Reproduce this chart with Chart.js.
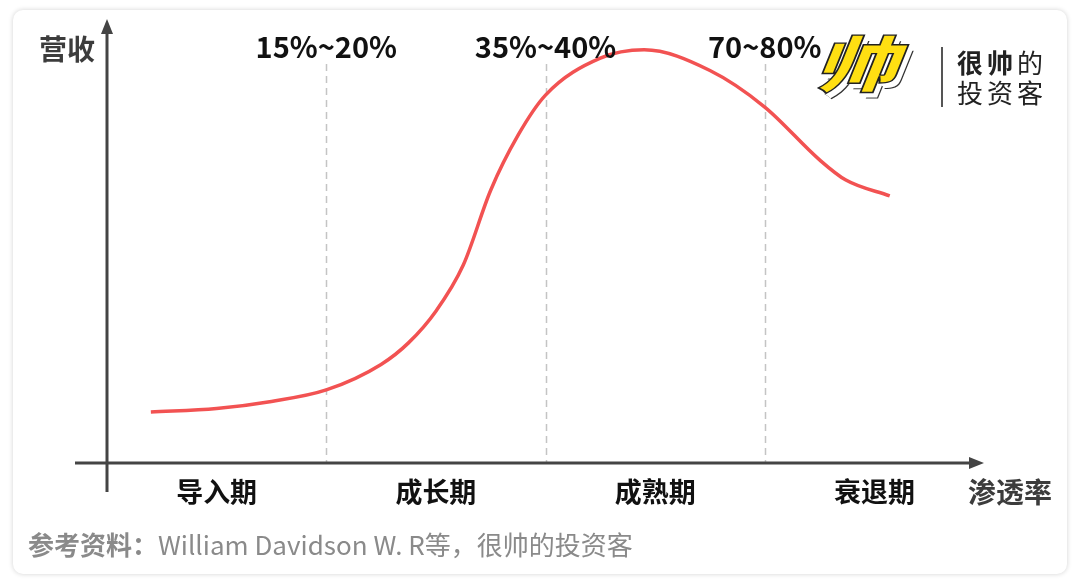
<!DOCTYPE html>
<html>
<head>
<meta charset="utf-8">
<script src="https://cdn.jsdelivr.net/npm/chart.js@4"></script>
<style>
  html, body { margin: 0; padding: 0; background: #fff; }
  #wrap { position: relative; width: 1080px; height: 584px; overflow: hidden; }
  #card {
    position: absolute; left: 13px; top: 10px; width: 1054px; height: 564px;
    background: #fff; border-radius: 10px;
    box-shadow: 0 0 5px rgba(0,0,0,0.18);
  }
  #logo {
    position: absolute; left: 836px; top: 30px;
    font: 900 66px "Noto Sans CJK SC", sans-serif;
    color: #ffdf12;
    transform: skewX(-22deg) scaleX(1.25) scaleY(0.92);
    transform-origin: left top;
    -webkit-text-stroke: 1.5px #222;
    text-shadow: 1px 1px 0 #fff, 2px 2px 0 #fff, 3px 3px 0 #fff, 4px 4px 0 #fff, 5px 5px 0 #fff, 6px 6px 0 #333;
    line-height: 1;
  }
  canvas { position: absolute; left: 0; top: 0; }
</style>
</head>
<body>
<div id="wrap">
  <div id="card"></div>
  <div id="logo">帅</div>
  <canvas id="c" width="1080" height="584"></canvas>
</div>
<script>
// stages along the x axis (one unit per stage)
const stageLabels = ["导入期", "成长期", "成熟期", "衰退期"];
const stagePos = [0.5, 1.5, 2.5, 3.5];
// penetration-rate markers between stages
const rangeLabels = ["15%~20%", "35%~40%", "70~80%"];
const rangePos = [1, 2, 3];

// revenue curve (x in stages, y 0-100)
const curveX = [0.2, 0.5, 0.75, 1.0, 1.25, 1.375, 1.5, 1.625, 1.75, 1.875, 2.0, 2.25, 2.45, 2.75, 3.0, 3.25, 3.37, 3.57];
const curveY = [11.6, 12.4, 14.0, 16.6, 22.4, 27.3, 34.5, 45.0, 62.0, 74.5, 83.6, 92.0, 93.9, 89.2, 80.9, 68.9, 64.3, 60.7];

const FONT = '"Noto Sans CJK SC", "Noto Sans", sans-serif';
const AXIS = "#444";

const decor = {
  id: "decor",
  beforeDatasetsDraw(chart) {
    const { ctx, scales: { x, y } } = chart;
    const x0 = x.getPixelForValue(0), y0 = y.getPixelForValue(0);
    ctx.save();
    // dashed stage borders
    ctx.strokeStyle = "#c4c4c4";
    ctx.lineWidth = 1.5;
    ctx.setLineDash([7, 5]);
    rangePos.forEach(v => {
      const px = Math.round(x.getPixelForValue(v)) + 0.5;
      ctx.beginPath();
      ctx.moveTo(px, 64);
      ctx.lineTo(px, y0);
      ctx.stroke();
    });
    ctx.setLineDash([]);
    // axes
    ctx.strokeStyle = AXIS;
    ctx.fillStyle = AXIS;
    ctx.lineWidth = 3;
    const xEnd = x.getPixelForValue(4);
    ctx.beginPath();
    ctx.moveTo(75, y0);
    ctx.lineTo(xEnd - 10, y0);
    ctx.moveTo(x0, 492);
    ctx.lineTo(x0, 32);
    ctx.stroke();
    ctx.beginPath();
    ctx.moveTo(xEnd, y0);
    ctx.lineTo(xEnd - 15, y0 - 6);
    ctx.lineTo(xEnd - 15, y0 + 6);
    ctx.closePath();
    ctx.fill();
    ctx.beginPath();
    ctx.moveTo(x0, 19);
    ctx.lineTo(x0 - 6, 34);
    ctx.lineTo(x0 + 6, 34);
    ctx.closePath();
    ctx.fill();
    ctx.restore();
  },
  afterDraw(chart) {
    const { ctx, scales: { x } } = chart;
    ctx.save();
    ctx.textBaseline = "middle";
    // axis names
    ctx.font = "700 28px " + FONT;
    ctx.fillStyle = "#3c3c3c";
    ctx.textAlign = "left";
    ctx.fillText("营收", 39, 49);
    ctx.textAlign = "center";
    ctx.fillText("渗透率", 1010, 492);
    // stage labels
    ctx.fillStyle = "#111";
    ctx.font = "700 27px " + FONT;
    stagePos.forEach((v, i) => ctx.fillText(stageLabels[i], x.getPixelForValue(v), 492));
    // range labels
    ctx.font = "700 29px " + FONT;
    rangePos.forEach((v, i) => ctx.fillText(rangeLabels[i], x.getPixelForValue(v), 47));
    // logo text
    ctx.strokeStyle = "#555";
    ctx.lineWidth = 2;
    ctx.beginPath();
    ctx.moveTo(942, 47);
    ctx.lineTo(942, 107);
    ctx.stroke();
    ctx.textAlign = "left";
    ctx.fillStyle = "#222";
    ctx.letterSpacing = "4px";
    ctx.font = "700 26px " + FONT;
    ctx.fillText("很帅", 957, 63);
    const lw = ctx.measureText("很帅").width;
    ctx.font = "400 26px " + FONT;
    ctx.fillText("的", 957 + lw, 63);
    ctx.fillText("投资客", 957, 93);
    ctx.letterSpacing = "0px";
    // source line
    ctx.fillStyle = "#8a8a8a";
    ctx.font = "700 26px " + FONT;
    ctx.fillText("参考资料：", 28, 545);
    const w = ctx.measureText("参考资料：").width;
    ctx.font = "400 26px " + FONT;
    ctx.fillText("William Davidson W. R等，很帅的投资客", 28 + w, 545);
    ctx.restore();
  }
};

new Chart(document.getElementById("c"), {
  type: "line",
  data: {
    datasets: [{
      data: curveX.map((v, i) => ({ x: v, y: curveY[i] })),
      borderColor: "#f25252",
      borderWidth: 3.5,
      pointRadius: 0,
      cubicInterpolationMode: "monotone",
      fill: false,
      clip: false,
    }],
  },
  options: {
    responsive: false,
    animation: false,
    layout: { padding: { left: 107, right: 96, top: 23, bottom: 121 } },
    plugins: { legend: { display: false }, tooltip: { enabled: false } },
    scales: {
      x: { type: "linear", min: 0, max: 4, display: false },
      y: { min: 0, max: 100, display: false },
    },
  },
  plugins: [decor],
});
</script>
</body>
</html>
